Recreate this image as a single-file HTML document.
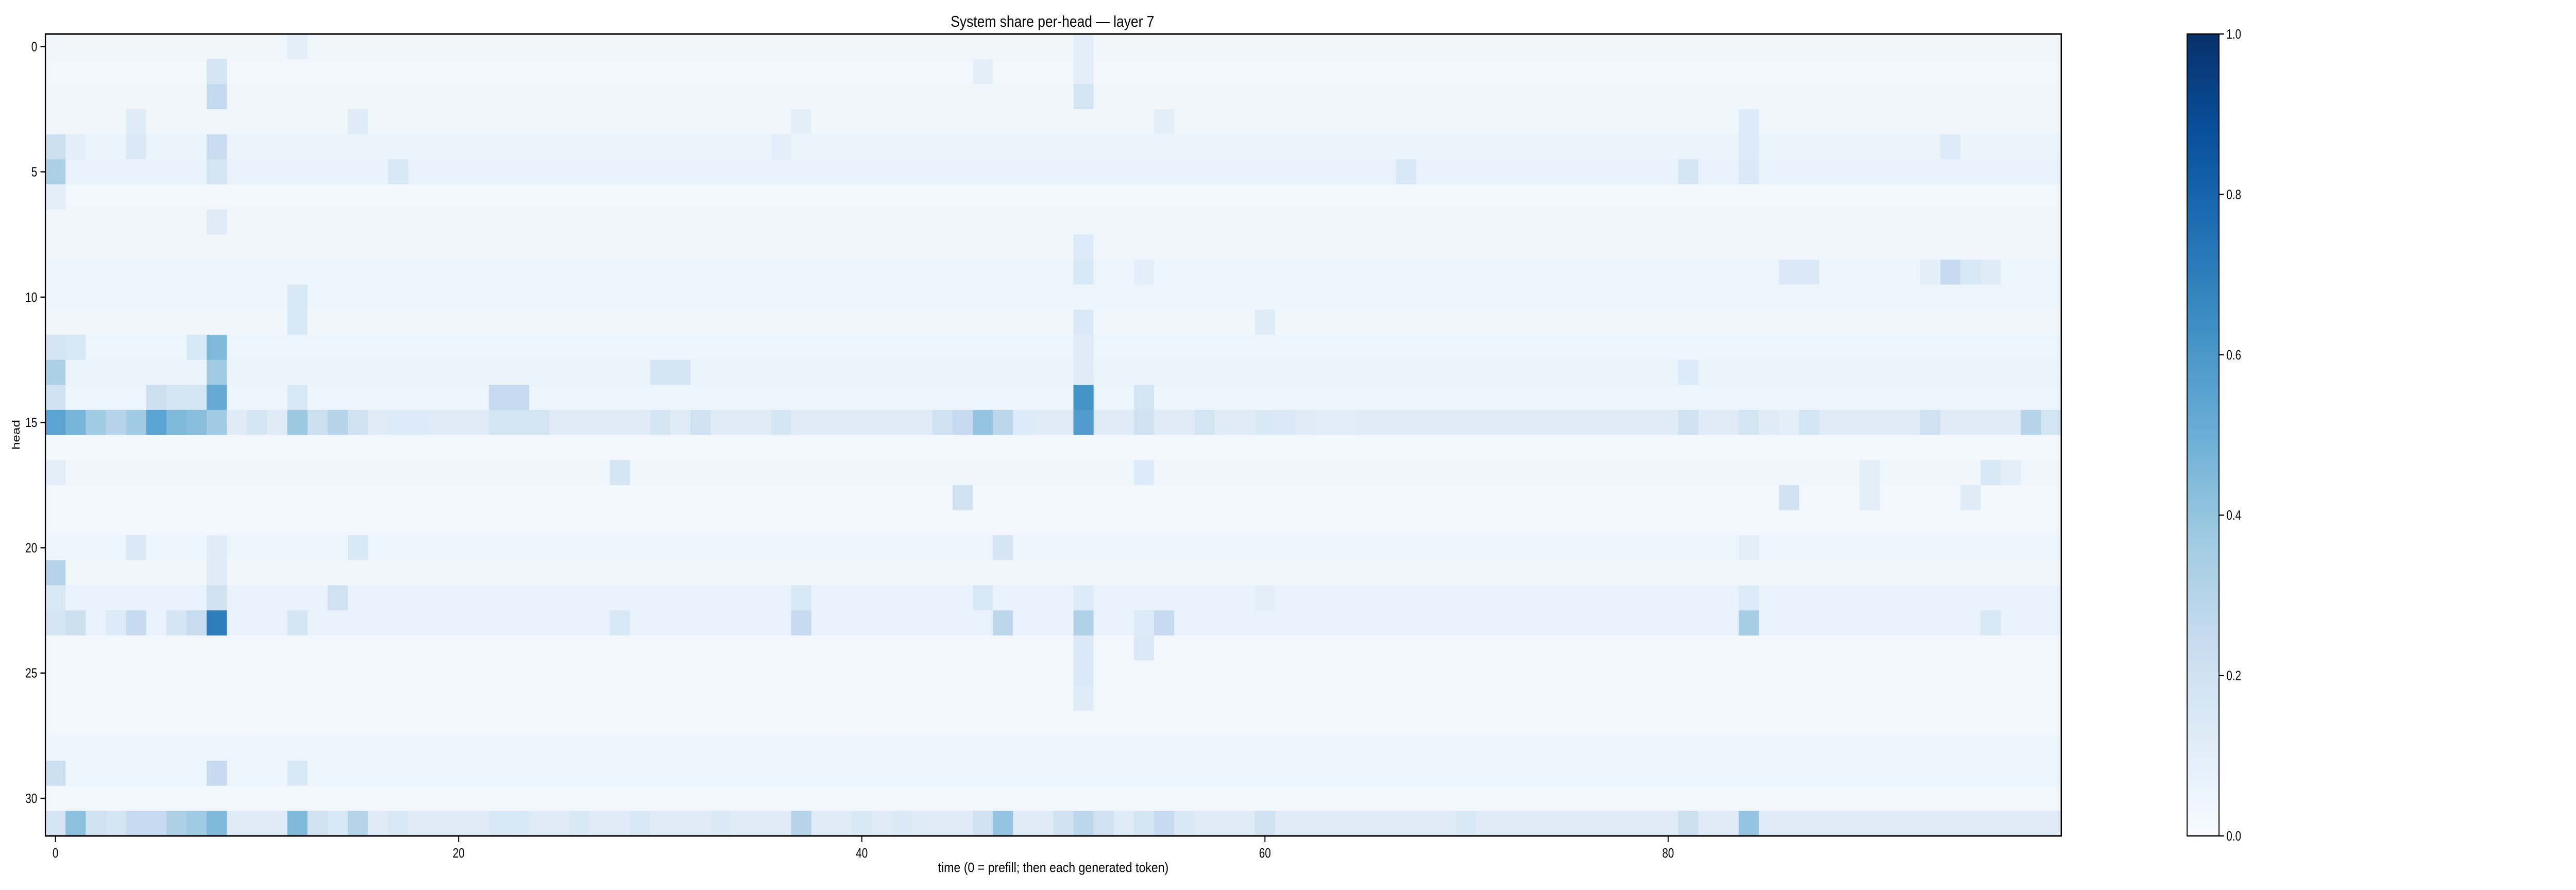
<!DOCTYPE html>
<html><head><meta charset="utf-8"><style>
html,body{margin:0;padding:0;background:#fff;width:100%;height:100%;overflow:hidden;}
svg{display:block;position:absolute;left:0;top:0;width:100vw;height:100vh;font-family:"Liberation Sans","DejaVu Sans",sans-serif;}
</style></head><body>
<svg id="chart" viewBox="0 0 6300 1728" preserveAspectRatio="none" xmlns="http://www.w3.org/2000/svg">
<defs>
<linearGradient id="blues" x1="0" y1="1" x2="0" y2="0">
<stop offset="0" stop-color="#f7fbff"/><stop offset="0.125" stop-color="#deebf7"/><stop offset="0.25" stop-color="#c6dbef"/><stop offset="0.375" stop-color="#9ecae1"/><stop offset="0.5" stop-color="#6baed6"/><stop offset="0.625" stop-color="#4292c6"/><stop offset="0.75" stop-color="#2171b5"/><stop offset="0.875" stop-color="#08519c"/><stop offset="1" stop-color="#08306b"/>
</linearGradient>
</defs>
<g id="cells"></g>
<g id="axes"></g>
<text x="2574" y="52" font-size="31" text-anchor="middle" textLength="498" lengthAdjust="spacingAndGlyphs">System share per-head — layer 7</text>
<text x="2576" y="1693" font-size="26" text-anchor="middle" textLength="564" lengthAdjust="spacingAndGlyphs">time (0 = prefill; then each generated token)</text>
<text x="0" y="0" font-size="26" text-anchor="middle" transform="translate(48,844) rotate(-90)">head</text>
</svg>
<script>
// Data
const nHeads = 32;
const nTimes = 100;
const rowBase = [0.04,0.03,0.04,0.04,0.06,0.07,0.03,0.04,0.04,0.05,0.05,0.04,0.05,0.06,0.05,0.12,0.02,0.04,0.03,0.03,0.05,0.04,0.07,0.07,0.03,0.03,0.03,0.03,0.05,0.05,0.03,0.12];
// highlights: [head, time, value]
const hlHead = [4,5,6,12,13,14,15,17,21,22,23,29,31, 15,23,31,12,4, 15,31, 15,31,23, 15,23,31,3,4,20, 15,14,31, 15,14,23,31, 15,14,23,31,12, 1,2,4,5,12,13,14,15,23,22,29,31,7,20,21, 15,15, 15,31,10,11,14,23,29,0, 15,31, 15,22,31, 15,31,3,20, 15, 5,15,31, 15, 14,15,31, 15,
 14,15,15,15,15,15,15,15,15,15,13,13,17,18,20,22,22,23,23,23,31,31,31,31,4,3,1,31,31,31,31,31,
 0,1,2,8,9,11,12,13,14,15,22,23,24,25,26,31, 14,15,17,23,24,9,31, 23,31,3, 15, 11,15,31,22, 15, 5,15, 31,31,31,31,15,15,15,15,
 5,13,15,31, 3,4,5,15,23,31,20,22, 9,15,18, 9,15, 15,17,18, 15,9, 9,4,18, 9, 9,17,23, 17, 15, 15];
const hlTime = [0,0,0,0,0,0,0,0,0,0,0,0,0, 1,1,1,1,1, 2,2, 3,3,3, 4,4,4,4,4,4, 5,5,5, 6,6,6,6, 7,7,7,7,7, 8,8,8,8,8,8,8,8,8,8,8,8,8,8,8, 10,11, 12,12,12,12,12,12,12,12, 13,13, 14,14,14, 15,15,15,15, 16, 17,17,17, 18, 22,22,22, 23,
 23,24,30,32,36,44,45,46,47,48,30,31,28,45,47,37,46,28,37,47,37,47,46,23,36,37,46,26,29,33,40,42,
 51,51,51,51,51,51,51,51,51,51,51,51,51,51,51,51, 54,54,54,54,54,54,54, 55,55,55, 57, 60,60,60,60, 61, 67,67, 50,52,56,70,63,64,65,66,
 81,81,81,81, 84,84,84,84,84,84,84,84, 86,86,86, 87,87, 90,90,90, 93,93, 94,94,95, 95, 96,96,96, 97, 98, 99];
const hlValue = [0.22,0.33,0.1,0.17,0.33,0.2,0.55,0.1,0.3,0.15,0.17,0.22,0.17, 0.47,0.22,0.42,0.15,0.1, 0.37,0.2, 0.3,0.18,0.13, 0.37,0.25,0.25,0.12,0.14,0.14, 0.55,0.22,0.25, 0.45,0.17,0.17,0.33, 0.43,0.18,0.24,0.37,0.15, 0.17,0.26,0.24,0.18,0.45,0.37,0.52,0.37,0.7,0.2,0.25,0.45,0.12,0.12,0.12, 0.17,0.12, 0.38,0.45,0.15,0.15,0.15,0.17,0.15,0.1, 0.22,0.2, 0.3,0.2,0.15, 0.2,0.3,0.12,0.15, 0.12, 0.16,0.13,0.16, 0.13, 0.25,0.18,0.16, 0.18,
 0.25,0.18,0.17,0.2,0.17,0.2,0.25,0.4,0.28,0.13,0.17,0.17,0.17,0.2,0.17,0.15,0.16,0.15,0.25,0.28,0.3,0.4,0.2,0.15,0.1,0.1,0.1,0.15,0.16,0.14,0.15,0.14,
 0.1,0.1,0.18,0.13,0.15,0.14,0.12,0.12,0.62,0.58,0.13,0.32,0.14,0.14,0.12,0.28, 0.18,0.2,0.13,0.13,0.14,0.1,0.18, 0.25,0.25,0.1, 0.18, 0.12,0.15,0.2,0.1, 0.14, 0.16,0.12, 0.2,0.2,0.15,0.15,0.11,0.11,0.12,0.12,
 0.17,0.13,0.2,0.22, 0.13,0.13,0.14,0.18,0.35,0.4,0.1,0.13, 0.14,0.1,0.2, 0.14,0.18, 0.12,0.1,0.1, 0.2,0.1, 0.25,0.13,0.12, 0.16, 0.12,0.15,0.15, 0.1, 0.3, 0.18];
const yTicks = [0,5,10,15,20,25,30];
const xTicks = [0,20,40,60,80];
const cbTicks = [0,0.2,0.4,0.6,0.8,1.0];
const cbLabels = ["0.0","0.2","0.4","0.6","0.8","1.0"];

// Layout
const L=111,R=5041,T=66,B=1623;
const cw=(R-L)/nTimes, rh=(B-T)/nHeads;
const xPos = t => L + t*cw;
const yPos = h => T + h*rh;
const CB={x:5349,w:78,t:66,b:1623};
const cbY = v => CB.b - v*(CB.b-CB.t);

const stops=[[0,[247,251,255]],[0.125,[222,235,247]],[0.25,[198,219,239]],[0.375,[158,202,225]],[0.5,[107,174,214]],[0.625,[66,146,198]],[0.75,[33,113,181]],[0.875,[8,81,156]],[1,[8,48,107]]];
function color(v){v=Math.max(0,Math.min(1,v));for(let i=1;i<stops.length;i++){if(v<=stops[i][0]){const a=stops[i-1],b=stops[i];const f=(v-a[0])/(b[0]-a[0]);const c=a[1].map((x,k)=>Math.round(x+(b[1][k]-x)*f));return `rgb(${c[0]},${c[1]},${c[2]})`;}}return 'rgb(8,48,107)';}

const grid=[];
for(let h=0;h<nHeads;h++){grid.push(new Array(nTimes).fill(rowBase[h]));}
for(let i=0;i<hlHead.length;i++){grid[hlHead[i]][hlTime[i]]=hlValue[i];}

const NS='http://www.w3.org/2000/svg';
function mk(tag,attrs,parent){const e=document.createElementNS(NS,tag);for(const k in attrs)e.setAttribute(k,attrs[k]);parent.appendChild(e);return e;}
const cells=document.getElementById('cells');
for(let h=0;h<nHeads;h++){for(let t=0;t<nTimes;t++){
 const r=mk('rect',{x:xPos(t),y:yPos(h),width:cw+0.6,height:rh+0.6,fill:color(grid[h][t])},cells);
 
 
}}
const ax=document.getElementById('axes');
const frame=mk('rect',{x:L,y:T,width:R-L,height:B-T,fill:'none',stroke:'#000','stroke-width':3},ax);


yTicks.forEach(v=>{const y=yPos(v+0.5);
 mk('line',{x1:L-12,x2:L,y1:y,y2:y,stroke:'#000','stroke-width':2.5},ax);
 const tx=mk('text',{x:L-20,y:y+9,'font-size':26,'text-anchor':'end',fill:'#000'},ax);tx.textContent=v;
 
 
});
xTicks.forEach(v=>{const x=xPos(v+0.5);
 mk('line',{x1:x,x2:x,y1:B,y2:B+12,stroke:'#000','stroke-width':2.5},ax);
 const tx=mk('text',{x:x,y:B+42,'font-size':26,'text-anchor':'middle',fill:'#000'},ax);tx.textContent=v;
 
 
});
const cb=mk('rect',{x:CB.x,y:CB.t,width:CB.w,height:CB.b-CB.t,fill:'url(#blues)',stroke:'#000','stroke-width':2.5},ax);


cbTicks.forEach((v,i)=>{const y=cbY(v);
 mk('line',{x1:CB.x+CB.w,x2:CB.x+CB.w+12,y1:y,y2:y,stroke:'#000','stroke-width':2.5},ax);
 const tx=mk('text',{x:CB.x+CB.w+18,y:y+9,'font-size':26,fill:'#000'},ax);tx.textContent=cbLabels[i];
 
 
});
</script>
</body></html>
